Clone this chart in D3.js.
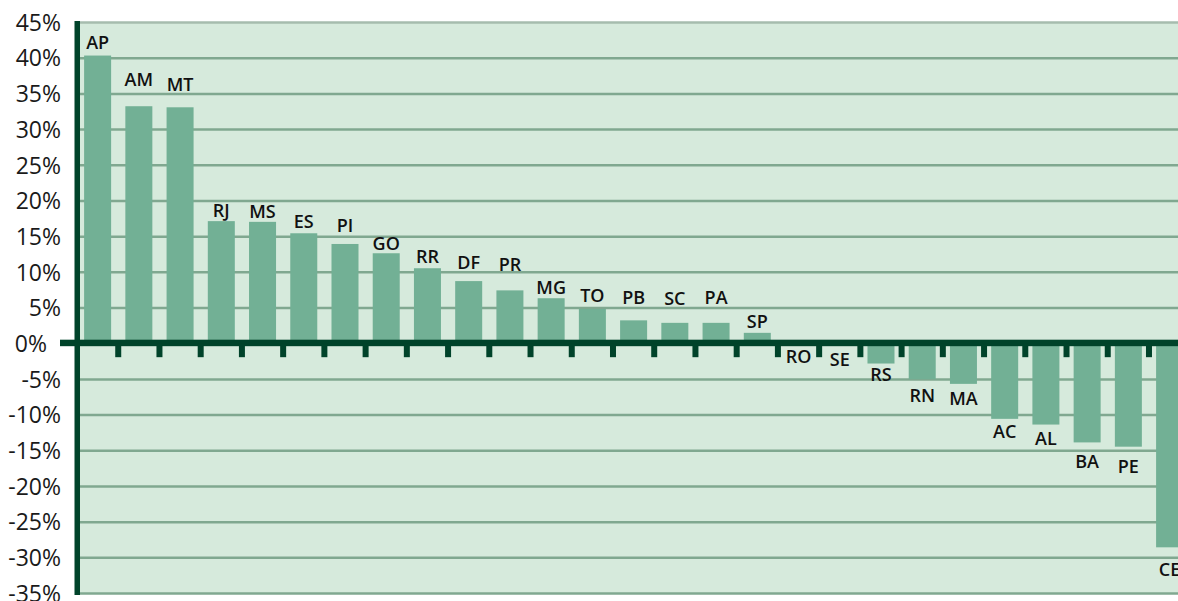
<!DOCTYPE html>
<html>
<head>
<meta charset="utf-8">
<script src="https://cdn.jsdelivr.net/npm/d3@7"></script>
<style>
  html, body { margin: 0; padding: 0; background: #fff; }
  svg { display: block; }
  .tick-label { font-family: "Open Sans", sans-serif; font-size: 23px; fill: #1a1a1a; }
  .cat-label { font-family: "Open Sans", sans-serif; font-size: 18px; font-weight: 600; fill: #111; }
</style>
</head>
<body>
<svg id="chart" width="1178" height="601"></svg>
<script>
// states, ordered as in the chart
const STATES = ['AP', 'AM', 'MT', 'RJ', 'MS', 'ES', 'PI', 'GO', 'RR', 'DF', 'PR', 'MG', 'TO', 'PB',
    'SC', 'PA', 'SP', 'RO', 'SE', 'RS', 'RN', 'MA', 'AC', 'AL', 'BA', 'PE', 'CE'];

// change in %
const VALUES = [40.3, 33.2, 33.05, 17.1, 17.0, 15.4, 13.9, 12.6, 10.5, 8.7, 7.4, 6.3, 4.8, 3.2,
    2.85, 2.85, 1.45, -0.2, -0.3, -2.85, -5.05, -5.7, -10.6, -11.4, -13.9, -14.5, -28.6];

const Y_TICKS = [45, 40, 35, 30, 25, 20, 15, 10, 5, 0, -5, -10, -15, -20, -25, -30, -35];

// gap (px) between bar end and its label, the labels were placed by hand
const LABEL_GAP = [7, 20, 16, 4, 4, 5, 12, 3, 5, 12, 19, 4, 7, 16,
    18, 19, 5, 4, 7, 4, 10, 8, 6, 7, 13, 13, 16];

const W = 1178;
const PLOT_LEFT = 80, PLOT_TOP = 22, PLOT_BOTTOM = 593;
const STEP = 41.23;

const svg = d3.select('#chart');

const y = d3.scaleLinear()
    .domain([-35, 45])
    .range([PLOT_BOTTOM, PLOT_TOP]);

const x = d3.scaleBand()
    .domain(STATES)
    .range([77, 77 + STATES.length * STEP])
    .paddingInner(0.345)
    .paddingOuter(0.1725);

const data = STATES.map((s, i) => ({state: s, value: VALUES[i], gap: LABEL_GAP[i]}));

// background
svg.append('rect')
    .attr('x', PLOT_LEFT)
    .attr('y', PLOT_TOP)
    .attr('width', W - PLOT_LEFT)
    .attr('height', PLOT_BOTTOM - PLOT_TOP)
    .attr('fill', '#d6eadc');

// horizontal grid
svg.append('g')
    .attr('transform', `translate(${PLOT_LEFT},0)`)
    .call(d3.axisLeft(y).tickValues(Y_TICKS.filter(d => d !== 0)).tickSize(-(W - PLOT_LEFT)).tickFormat(''))
    .call(g => g.select('.domain').remove())
    .call(g => g.selectAll('.tick line')
        .attr('stroke', d => d === 45 ? '#a6bcae' : '#80a890')
        .attr('stroke-width', 2.5));

// y labels
svg.append('g')
    .attr('transform', 'translate(61,0)')
    .call(d3.axisLeft(y).tickValues(Y_TICKS).tickSize(0).tickPadding(0).tickFormat(d => d + '%'))
    .call(g => g.select('.domain').remove())
    .call(g => g.selectAll('.tick text')
        .attr('class', 'tick-label')
        .attr('dy', '0.36em')
        .attr('x', d => d === 0 ? -14 : 0));

// bars
svg.selectAll('.bar')
    .data(data)
    .enter()
    .append('rect')
    .attr('class', 'bar')
    .attr('x', d => x(d.state))
    .attr('width', x.bandwidth())
    .attr('y', d => y(Math.max(0, d.value)))
    .attr('height', d => Math.abs(y(d.value) - y(0)))
    .attr('fill', '#72b095');

// zero line and ticks between bars
const AXIS_COLOR = '#00432a';
svg.append('rect')
    .attr('x', 60)
    .attr('y', y(0) - 3.5)
    .attr('width', W - 60)
    .attr('height', 6.5)
    .attr('fill', AXIS_COLOR);

svg.selectAll('.x-tick')
    .data(STATES.slice(1))
    .enter()
    .append('rect')
    .attr('class', 'x-tick')
    .attr('x', d => x(d) - x.step() * x.paddingInner() / 2 - 3)
    .attr('y', y(0))
    .attr('width', 6)
    .attr('height', 14)
    .attr('fill', AXIS_COLOR);

// left axis
svg.append('rect')
    .attr('x', 74.5)
    .attr('y', PLOT_TOP - 1)
    .attr('width', 5.5)
    .attr('height', PLOT_BOTTOM - PLOT_TOP + 3)
    .attr('fill', AXIS_COLOR);

// state labels
svg.selectAll('.cat-label')
    .data(data)
    .enter()
    .append('text')
    .attr('class', 'cat-label')
    .attr('text-anchor', 'middle')
    .attr('x', d => x(d.state) + x.bandwidth() / 2)
    .attr('y', d => d.value >= 0
        ? y(d.value) - d.gap
        : Math.max(y(d.value), y(0) + 3) + d.gap + 13)
    .text(d => d.state);
</script>
</body>
</html>
